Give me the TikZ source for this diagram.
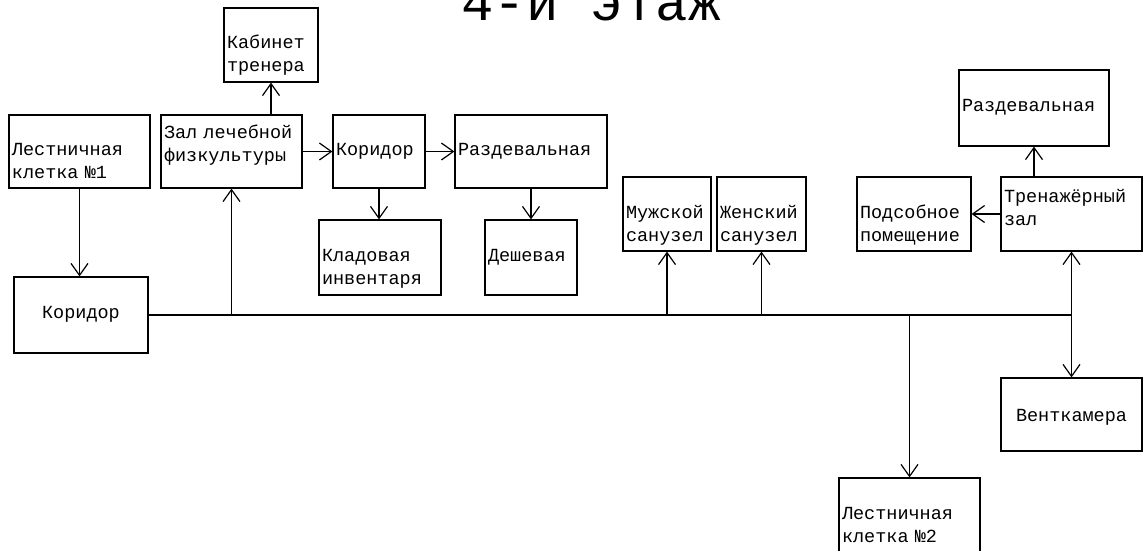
\documentclass[tikz,border=0pt]{standalone}
\usepackage{fontspec}
\setmainfont{Liberation Mono}
\usetikzlibrary{arrows.meta}

\begin{document}
\begin{tikzpicture}[x=1pt, y=-1pt, line width=1.2pt, font=\fontsize{18.5}{23}\selectfont,
  room/.style={draw, align=left, inner xsep=3pt, inner ysep=0pt},
  low/.style={text height=#1, text depth=0pt},
  high/.style={text height=0pt, text depth=#1},
  arr/.style={-{Straight Barb[length=12pt, width=17pt]}},
  darr/.style={{Straight Barb[length=12pt, width=17pt]}-{Straight Barb[length=12pt, width=17pt]}}]
\useasboundingbox (0,0) rectangle (1143,550);
\node[anchor=base, font=\fontsize{54}{60}\selectfont] (title) at (591,20) {4-й этаж};
\node[room, low=7pt, text width=88pt, minimum height=74pt] (kab) at (271,45) {Кабинет\\тренера};
\node[room, low=8pt, text width=135pt, minimum height=73pt] (lk1) at (79.5,151.5) {Лестничная\\клетка №1};
\node[room, high=26pt, text width=135pt, minimum height=73pt] (zal) at (231.5,151.5) {Зал лечебной\\физкультуры};
\node[room, low=8pt, text width=86pt, minimum height=73pt] (kor1) at (379,151.5) {Коридор};
\node[room, low=8pt, text width=146pt, minimum height=73pt] (razd1) at (531,151.5) {Раздевальная};
\node[room, low=8pt, text width=116pt, minimum height=75pt] (klad) at (380,257.5) {Кладовая\\инвентаря};
\node[room, low=8pt, text width=86pt, minimum height=75pt] (dush) at (531,257.5) {Дешевая};
\node[room, low=9pt, text width=82pt, minimum height=74pt] (muzh) at (667,214) {Мужской\\санузел};
\node[room, low=9pt, text width=83pt, minimum height=74pt] (zhen) at (761.5,214) {Женский\\санузел};
\node[room, low=9pt, text width=108pt, minimum height=74pt] (pods) at (914,214) {Подсобное\\помещение};
\node[room, high=23pt, text width=135pt, minimum height=74pt] (tren) at (1071.5,214) {Тренажёрный\\зал};
\node[room, low=7pt, text width=144pt, minimum height=76pt] (razd2) at (1034,108) {Раздевальная};
\node[room, low=7pt, align=center, text width=128pt, minimum height=76pt] (kor2) at (81,315) {Коридор};
\node[room, low=14pt, align=center, text width=135pt, minimum height=73pt] (vent) at (1071.5,414.5) {Венткамера};
\node[room, low=8pt, text width=135pt, minimum height=75pt] (lk2) at (909.5,515.5) {Лестничная\\клетка №2};
\coordinate (bus) at (tren.south |- kor2.east);
\draw (kor2.east) -- (bus);
\draw[arr] (lk1.south) -- (lk1.south |- kor2.north);
\draw[arr] (zal.south |- bus) -- (zal.south);
\draw[arr] (zal.north -| kab.south) -- (kab.south);
\draw[arr] (zal.east) -- (kor1.west);
\draw[arr] (kor1.east) -- (razd1.west);
\draw[arr] (kor1.south) -- (kor1.south |- klad.north);
\draw[arr] (razd1.south) -- (dush.north);
\draw[arr] (muzh.south |- bus) -- (muzh.south);
\draw[arr] (zhen.south |- bus) -- (zhen.south);
\draw[arr] (lk2.north |- bus) -- (lk2.north);
\draw[darr] (tren.south) -- (vent.north);
\draw[arr] (razd2.south |- tren.north) -- (razd2.south);
\draw[arr] (tren.west) -- (pods.east);
\end{tikzpicture}
\end{document}
